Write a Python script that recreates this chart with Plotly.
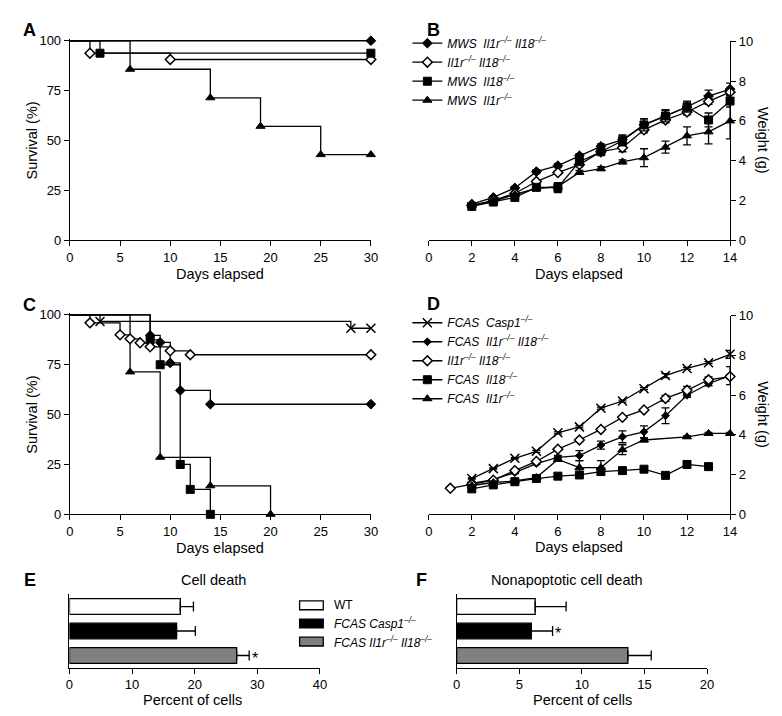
import plotly.graph_objects as go

W, H = 782, 716
FONT = "Liberation Sans, Arial, Helvetica, sans-serif"

# ---------------- DATA ----------------
# Panel A: Kaplan-Meier (event/censor days and survival %)
A_mws_dko_t = [30];                    A_mws_dko_s = [100]
A_dko_t = [2, 10, 30];                 A_dko_s = [93.75, 90.6, 90.6]
A_mws_il18_t = [3, 30];                A_mws_il18_s = [93.75, 93.75]
A_mws_il1r_t = [6, 14, 19, 25, 30];    A_mws_il1r_s = [85.7, 71.4, 57.1, 42.9, 42.9]

# Panel B: weight (g) by day
B_days = [2, 3, 4, 5, 6, 7, 8, 9, 10, 11, 12, 13, 14]
B_mws_dko = [1.82, 2.15, 2.63, 3.45, 3.75, 4.25, 4.72, 5.05, 5.8, 6.25, 6.7, 7.25, 7.6]
B_mws_dko_err = [0.05, 0.05, 0.08, 0.1, 0.1, 0.1, 0.12, 0.25, 0.3, 0.3, 0.3, 0.3, 0.3]
B_dko = [1.75, 2.0, 2.35, 2.95, 3.4, 3.8, 4.45, 4.65, 5.55, 6.05, 6.45, 6.98, 7.45]
B_dko_err = [0.05, 0.05, 0.05, 0.08, 0.08, 0.1, 0.1, 0.2, 0.15, 0.15, 0.15, 0.15, 0.2]
B_mws_il18 = [1.7, 1.92, 2.15, 2.66, 2.65, 3.95, 4.45, 5.0, 5.8, 6.25, 6.7, 6.05, 7.0]
B_mws_il18_err = [0.05, 0.08, 0.1, 0.1, 0.25, 0.15, 0.15, 0.25, 0.3, 0.3, 0.25, 0.35, 0.3]
B_mws_il1r = [1.75, 1.95, 2.3, 2.6, 2.7, 3.41, 3.6, 3.94, 4.15, 4.68, 5.25, 5.45, 6.0]
B_mws_il1r_err = [0.05, 0.05, 0.05, 0.1, 0.1, 0.1, 0.1, 0.1, 0.45, 0.3, 0.45, 0.6, 0.9]

# Panel C: Kaplan-Meier
C_casp1_t = [3, 28, 30];                      C_casp1_s = [96.7, 93.3, 93.3]
C_dko_t = [2, 5, 6, 7, 8, 10, 12, 30];        C_dko_s = [96, 90, 88, 86, 84, 82, 80, 80]
C_fcas_dko_t = [8, 9, 10, 11, 14, 30];        C_fcas_dko_s = [89.7, 86.2, 75.9, 62.1, 55.2, 55.2]
C_fcas_il18_t = [8, 9, 11, 12, 14];           C_fcas_il18_s = [87.5, 75, 25, 12.5, 0]
C_fcas_il1r_t = [6, 9, 14, 20];               C_fcas_il1r_s = [71.4, 28.6, 14.3, 0]

# Panel D: weight (g) by day
D_casp1_days = [2, 3, 4, 5, 6, 7, 8, 9, 10, 11, 12, 13, 14]
D_casp1 = [1.8, 2.3, 2.82, 3.17, 4.1, 4.4, 5.34, 5.7, 6.32, 6.98, 7.34, 7.63, 8.05]
D_casp1_err = [0.03, 0.03, 0.03, 0.05, 0.05, 0.05, 0.05, 0.05, 0.05, 0.1, 0.05, 0.05, 0.2]
D_fcas_dko_days = [2, 3, 4, 5, 6, 7, 8, 9, 10, 11, 12, 13, 14]
D_fcas_dko = [1.55, 1.75, 2.1, 2.55, 2.87, 2.95, 3.48, 3.9, 4.15, 4.96, 5.99, 6.57, 6.98]
D_fcas_dko_err = [0.05, 0.05, 0.05, 0.05, 0.1, 0.25, 0.2, 0.3, 0.3, 0.4, 0.1, 0.1, 0.45]
D_dko_days = [1, 2, 3, 4, 5, 6, 7, 8, 9, 10, 11, 12, 13, 14]
D_dko = [1.31, 1.51, 1.72, 2.2, 2.66, 3.28, 3.74, 4.27, 4.88, 5.25, 5.83, 6.24, 6.77, 6.93]
D_dko_err = [0.03, 0.03, 0.03, 0.05, 0.05, 0.05, 0.05, 0.05, 0.05, 0.05, 0.15, 0.2, 0.15, 0.1]
D_fcas_il18_days = [2, 3, 4, 5, 6, 7, 8, 9, 10, 11, 12, 13]
D_fcas_il18 = [1.28, 1.48, 1.64, 1.8, 1.92, 1.98, 2.15, 2.2, 2.27, 1.96, 2.51, 2.4]
D_fcas_il1r_days = [2, 3, 4, 5, 6, 7, 8, 9, 10, 12, 13, 14]
D_fcas_il1r = [1.45, 1.6, 1.68, 1.85, 2.76, 2.35, 2.35, 3.25, 3.74, 3.9, 4.07, 4.07]
D_fcas_il1r_err = [0.03, 0.03, 0.03, 0.05, 0.1, 0.35, 0.35, 0.25, 0.1, 0.05, 0.05, 0.05]

# Panels E/F: percent of cells
EF_groups = ["WT", "<i>FCAS Casp1<sup>–/–</sup></i>", "<i>FCAS Il1r<sup>–/–</sup> Il18<sup>–/–</sup></i>"]
EF_colors = ["white", "black", "#808080"]
E_vals = [17.7, 17.1, 26.7]
E_err = [2.1, 3.0, 2.0]
F_vals = [6.27, 5.96, 13.67]
F_err = [2.47, 1.7, 1.87]
E_star = [False, False, True]
F_star = [False, True, False]

# legend names
B_names = ["<i>MWS\u00a0 Il1r<sup>–/–</sup> Il18<sup>–/–</sup></i>",
           "<i>Il1r<sup>–/–</sup> Il18<sup>–/–</sup></i>",
           "<i>MWS\u00a0 Il18<sup>–/–</sup></i>",
           "<i>MWS\u00a0 Il1r<sup>–/–</sup></i>"]
D_names = ["<i>FCAS\u00a0 Casp1<sup>–/–</sup></i>",
           "<i>FCAS\u00a0 Il1r<sup>–/–</sup> Il18<sup>–/–</sup></i>",
           "<i>Il1r<sup>–/–</sup> Il18<sup>–/–</sup></i>",
           "<i>FCAS\u00a0 Il18<sup>–/–</sup></i>",
           "<i>FCAS\u00a0 Il1r<sup>–/–</sup></i>"]

# ---------------- HELPERS ----------------
def xd(a, b):
    return [a / W, b / W]

def yd(top, bottom):
    return [(H - bottom) / H, (H - top) / H]

LW = 1.3
MK = {
    "fdiamond": dict(symbol="diamond", color="black", line=dict(color="black", width=1)),
    "odiamond": dict(symbol="diamond", color="white", line=dict(color="black", width=1.5)),
    "square": dict(symbol="square", color="black", line=dict(color="black", width=1)),
    "triangle": dict(symbol="triangle-up", color="black", line=dict(color="black", width=1)),
    "x": dict(symbol="x-thin", color="black", line=dict(color="black", width=1.5)),
}
SIZES = {"fdiamond": 7.5, "odiamond": 7.5, "square": 8, "triangle": 8, "x": 9}

fig = go.Figure()

def km(t, s, kind, xa, ya):
    fig.add_trace(go.Scatter(x=[0] + t, y=[100] + s, mode="lines", line_shape="hv",
                             line=dict(color="black", width=LW), showlegend=False,
                             xaxis=xa, yaxis=ya, hoverinfo="skip"))
    m = dict(MK[kind]); m["size"] = SIZES[kind]
    fig.add_trace(go.Scatter(x=t, y=s, mode="markers", marker=m, showlegend=False,
                             cliponaxis=False, xaxis=xa, yaxis=ya))

def wt(x, y, err, kind, name, xa, ya, legend, size=None):
    m = dict(MK[kind]); m["size"] = size or SIZES[kind]
    fig.add_trace(go.Scatter(x=x, y=y, mode="lines+markers", name=name, marker=m,
                             line=dict(color="black", width=LW),
                             error_y=dict(type="data", array=err, color="black",
                                          thickness=LW, width=4, visible=err is not None),
                             cliponaxis=False, xaxis=xa, yaxis=ya, legend=legend))

# Panel A
km(A_mws_il1r_t, A_mws_il1r_s, "triangle", "x", "y")
km(A_dko_t, A_dko_s, "odiamond", "x", "y")
km(A_mws_il18_t, A_mws_il18_s, "square", "x", "y")
km(A_mws_dko_t, A_mws_dko_s, "fdiamond", "x", "y")

# Panel B
wt(B_days, B_mws_dko, B_mws_dko_err, "fdiamond", B_names[0], "x2", "y2", "legend")
wt(B_days, B_dko, B_dko_err, "odiamond", B_names[1], "x2", "y2", "legend")
wt(B_days, B_mws_il18, B_mws_il18_err, "square", B_names[2], "x2", "y2", "legend")
wt(B_days, B_mws_il1r, B_mws_il1r_err, "triangle", B_names[3], "x2", "y2", "legend")

# Panel C
km(C_fcas_il1r_t, C_fcas_il1r_s, "triangle", "x3", "y3")
km(C_fcas_il18_t, C_fcas_il18_s, "square", "x3", "y3")
km(C_fcas_dko_t, C_fcas_dko_s, "fdiamond", "x3", "y3")
km(C_dko_t, C_dko_s, "odiamond", "x3", "y3")
km(C_casp1_t, C_casp1_s, "x", "x3", "y3")

# Panel D
wt(D_casp1_days, D_casp1, D_casp1_err, "x", D_names[0], "x4", "y4", "legend2")
wt(D_fcas_dko_days, D_fcas_dko, D_fcas_dko_err, "fdiamond", D_names[1], "x4", "y4", "legend2", size=6)
wt(D_dko_days, D_dko, D_dko_err, "odiamond", D_names[2], "x4", "y4", "legend2")
wt(D_fcas_il18_days, D_fcas_il18, None, "square", D_names[3], "x4", "y4", "legend2")
wt(D_fcas_il1r_days, D_fcas_il1r, D_fcas_il1r_err, "triangle", D_names[4], "x4", "y4", "legend2")

# Panels E and F
cats = list(range(len(EF_groups)))
for vals, errs, xa, ya in [(E_vals, E_err, "x5", "y5"), (F_vals, F_err, "x6", "y6")]:
    fig.add_trace(go.Bar(x=vals, y=cats, orientation="h", width=0.64,
                         marker=dict(color=EF_colors, line=dict(color="black", width=LW)),
                         error_x=dict(type="data", array=errs, arrayminus=[0] * len(errs),
                                      symmetric=False, color="black", thickness=LW, width=5),
                         showlegend=False, xaxis=xa, yaxis=ya))

# ---------------- AXES ----------------
ax = dict(showgrid=False, zeroline=False, showline=True, linecolor="black", linewidth=LW,
          ticks="outside", ticklen=5, tickwidth=LW, tickcolor="black",
          tickfont=dict(family=FONT, size=13, color="black"), fixedrange=True)

def surv_dom(top100, bottom0, pad=1.0):
    ppu = (bottom0 - top100) / 100.0
    return yd(bottom0 - (100 + pad) * ppu, bottom0)

E_dom = (58.3, 312.3)
F_dom = (451, 705)
E_range = [0, 40]
F_range = [0, 20]

layout = dict(
    width=W, height=H, margin=dict(l=0, r=0, t=0, b=0),
    paper_bgcolor="white", plot_bgcolor="white",
    font=dict(family=FONT, color="black"),
    xaxis=dict(ax, domain=xd(58.7, 364), range=[0, 30], tickvals=[0, 5, 10, 15, 20, 25, 30], anchor="y"),
    yaxis=dict(ax, domain=surv_dom(26.3, 230), range=[0, 101], tickvals=[0, 25, 50, 75, 100], anchor="x"),
    xaxis2=dict(ax, domain=xd(422.7, 728.3), range=[0, 14], tickvals=list(range(0, 15, 2)), anchor="y2"),
    yaxis2=dict(ax, domain=yd(27, 230), range=[0, 10], tickvals=list(range(0, 11, 2)), anchor="x2", side="right"),
    xaxis3=dict(ax, domain=xd(58.7, 364), range=[0, 30], tickvals=[0, 5, 10, 15, 20, 25, 30], anchor="y3"),
    yaxis3=dict(ax, domain=surv_dom(306.3, 510), range=[0, 101], tickvals=[0, 25, 50, 75, 100], anchor="x3"),
    xaxis4=dict(ax, domain=xd(422.7, 728.3), range=[0, 14], tickvals=list(range(0, 15, 2)), anchor="y4"),
    yaxis4=dict(ax, domain=yd(307, 510), range=[0, 10], tickvals=list(range(0, 11, 2)), anchor="x4", side="right"),
    xaxis5=dict(ax, domain=xd(*E_dom), range=E_range, tickvals=[0, 10, 20, 30, 40], anchor="y5"),
    yaxis5=dict(ax, domain=yd(591.7, 666.7), range=[2.5, -0.5], showticklabels=False, ticks="", anchor="x5"),
    xaxis6=dict(ax, domain=xd(*F_dom), range=F_range, tickvals=[0, 5, 10, 15, 20], anchor="y6"),
    yaxis6=dict(ax, domain=yd(591.7, 666.7), range=[2.5, -0.5], showticklabels=False, ticks="", anchor="x6"),
    legend=dict(x=401 / W, y=1 - 14 / H, xanchor="left", yanchor="top", bgcolor="rgba(0,0,0,0)",
                font=dict(family=FONT, size=12, color="black"), itemwidth=30, traceorder="normal",
                tracegroupgap=0),
    legend2=dict(x=401 / W, y=1 - 299.5 / H, xanchor="left", yanchor="top", bgcolor="rgba(0,0,0,0)",
                 font=dict(family=FONT, size=12, color="black"), itemwidth=30, traceorder="normal",
                 tracegroupgap=0),
    showlegend=True,
)
fig.update_layout(**layout)

# ---------------- ANNOTATIONS ----------------
anns = []
def ann(text, xpx, ypx, size=14.5, angle=0, xanchor="center", **kw):
    anns.append(dict(text=text, x=xpx / W, y=1 - ypx / H, xref="paper", yref="paper",
                     xanchor=xanchor, yanchor="middle", showarrow=False, textangle=angle,
                     font=dict(family=FONT, size=size, color="black"), **kw))

for L, xp, yp in [("A", 18, 15.5), ("B", 428, 15), ("C", 18, 296.5), ("D", 428, 295),
                  ("E", 18, 577), ("F", 415, 577)]:
    ann("<b>%s</b>" % L, xp, yp, size=18)

ann("Survival (%)", 20.5, 128, angle=-90)
ann("Survival (%)", 20.5, 408, angle=-90)
ann("Days elapsed", 211, 265)
ann("Days elapsed", 575.5, 265)
ann("Days elapsed", 211, 544)
ann("Days elapsed", 575.5, 543)
ann("Weight (g)", 761, 128, angle=90)
ann("Weight (g)", 761, 408, angle=90)
ann("Cell death", 204, 577)
ann("Nonapoptotic cell death", 563, 577)
ann("Percent of cells", 183, 700)
ann("Percent of cells", 579, 700)

# significance stars (placed ~6 px right of the error-bar cap)
for vals, errs, stars, xa, ya, dom, rng in [(E_vals, E_err, E_star, "x5", "y5", E_dom, E_range),
                                             (F_vals, F_err, F_star, "x6", "y6", F_dom, F_range)]:
    unit_px = (dom[1] - dom[0]) / (rng[1] - rng[0])
    for i, (v, e, s) in enumerate(zip(vals, errs, stars)):
        if s:
            anns.append(dict(text="*", x=v + e + 6 / unit_px, y=i + 0.12, xref=xa, yref=ya,
                             xanchor="center", yanchor="middle", showarrow=False,
                             font=dict(family=FONT, size=16, color="black")))

# E/F legend (swatches + labels)
shapes = []
leg_y = [603, 621.5, 640]
for g, c, yy in zip(EF_groups, EF_colors, leg_y):
    shapes.append(dict(type="rect", xref="paper", yref="paper",
                       x0=291.7 / W, x1=315.7 / W, y0=1 - (yy + 4.5) / H, y1=1 - (yy - 4.5) / H,
                       fillcolor=c, line=dict(color="black", width=LW)))
    ann(g, 325, yy, size=12, xanchor="left")

fig.update_layout(annotations=anns, shapes=shapes)
fig.write_html("out.html")
